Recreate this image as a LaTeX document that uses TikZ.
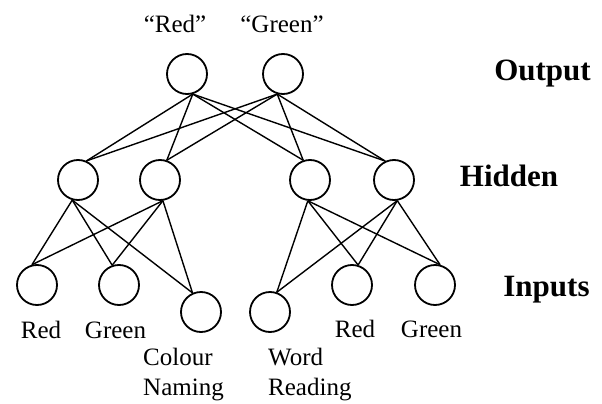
\documentclass[tikz,border=0pt]{standalone}
\usepackage{fontspec}
\setmainfont{Liberation Serif}
\begin{document}
\begin{tikzpicture}[x=1pt,y=-1pt,
  neuron/.style={circle,draw,line width=1.8pt,minimum size=40pt,inner sep=0pt},
  conn/.style={line width=1.4pt},
  lab/.style={font=\fontsize{25}{30}\selectfont,inner sep=0pt,anchor=base},
  layer/.style={font=\fontsize{31}{36}\selectfont\bfseries,inner sep=0pt,anchor=base}]
\useasboundingbox (0,0) rectangle (602,404);
% output layer
\node[neuron] (O1) at (187,74) {};
\node[neuron] (O2) at (283,74) {};
% hidden layer
\node[neuron] (H1) at (78,180) {};
\node[neuron] (H2) at (160,180) {};
\node[neuron] (H3) at (310,180) {};
\node[neuron] (H4) at (394,180) {};
% input layer
\node[neuron] (I1) at (37,285) {};
\node[neuron] (I2) at (119,285) {};
\node[neuron] (I3) at (201,312) {};
\node[neuron] (I4) at (270,312) {};
\node[neuron] (I5) at (352,285) {};
\node[neuron] (I6) at (435,285) {};
% attachment points
\coordinate (O1b) at (O1.-74);
\coordinate (O2b) at (O2.-106);
\coordinate (H1t) at (H1.66);
\coordinate (H2t) at (H2.71);
\coordinate (H3t) at (H3.109);
\coordinate (H4t) at (H4.115);
\coordinate (H1b) at (H1.-106);
\coordinate (H2b) at (H2.-82);
\coordinate (H3b) at (H3.-96);
\coordinate (H4b) at (H4.-81);
\coordinate (I1t) at (I1.104);
\coordinate (I2t) at (I2.109);
\coordinate (I3t) at (I3.114);
\coordinate (I4t) at (I4.71);
\coordinate (I5t) at (I5.73);
\coordinate (I6t) at (I6.76);
% connections
\foreach \o in {O1b,O2b}
  \foreach \h in {H1t,H2t,H3t,H4t}
    \draw[conn] (\o) -- (\h);
\foreach \h in {H1b,H2b}
  \foreach \i in {I1t,I2t,I3t}
    \draw[conn] (\h) -- (\i);
\foreach \h in {H3b,H4b}
  \foreach \i in {I4t,I5t,I6t}
    \draw[conn] (\h) -- (\i);
% labels
\node[lab] (tRed) at (175,33) {“Red”};
\node[lab] (tGreen) at (282,33) {“Green”};
\node[lab] (l1) at (41,338) {Red};
\node[lab] (l2) at (115.5,338) {Green};
\node[lab,anchor=base west] (l3a) at (143,365) {Colour};
\node[lab,anchor=base west] (l3b) at (143,395) {Naming};
\node[lab,anchor=base west] (l4a) at (268,365) {Word};
\node[lab,anchor=base west] (l4b) at (268,395) {Reading};
\node[lab] (l5) at (355,337) {Red};
\node[lab] (l6) at (431.5,337) {Green};
\node[layer] (out) at (542.5,80) {Output};
\node[layer] (hid) at (509,186) {Hidden};
\node[layer] (inp) at (546.5,296) {Inputs};
\end{tikzpicture}
\end{document}
